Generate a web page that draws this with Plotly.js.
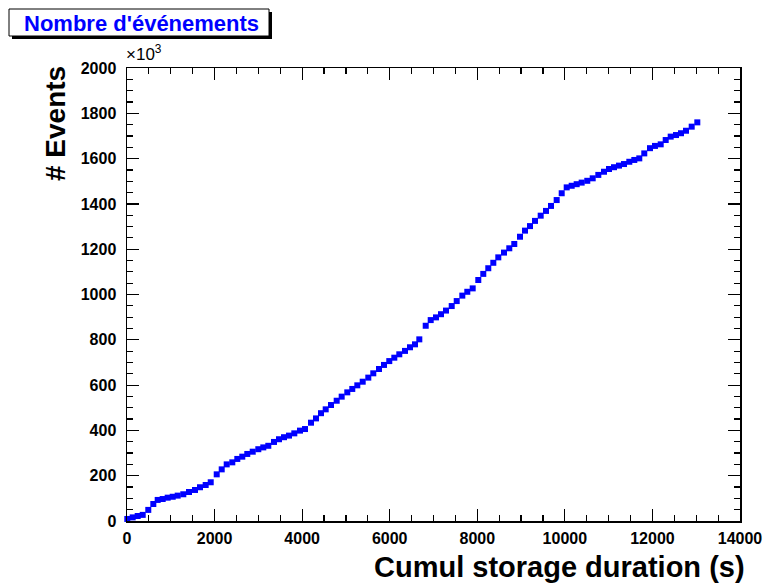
<!DOCTYPE html>
<html>
<head>
<meta charset="utf-8">
<script src="https://cdn.plot.ly/plotly-3.0.1.min.js"></script>
<style>
  html, body { margin: 0; padding: 0; background: #ffffff; }
  #chart { width: 764px; height: 584px; }
</style>
</head>
<body>
<div id="chart"></div>
<script>
// Cumulative storage duration (s)
const duration = [
  7, 130, 244, 359, 486, 601, 701, 815, 929, 1044,
  1158, 1286, 1416, 1553, 1667, 1797, 1912, 2049, 2163, 2277,
  2405, 2519, 2633, 2747, 2871, 2999, 3113, 3227, 3357, 3471,
  3586, 3700, 3821, 3951, 4066, 4202, 4316, 4431, 4538, 4659,
  4789, 4903, 5031, 5145, 5260, 5383, 5511, 5625, 5755, 5869,
  5990, 6105, 6219, 6349, 6463, 6577, 6676, 6822, 6936, 7057,
  7171, 7285, 7416, 7530, 7658, 7772, 7895, 8023, 8137, 8251,
  8366, 8480, 8610, 8731, 8845, 8975, 9090, 9204, 9318, 9448,
  9569, 9683, 9813, 9928, 10042, 10156, 10270, 10384, 10512, 10636,
  10764, 10894, 11008, 11122, 11236, 11351, 11472, 11586, 11700, 11814,
  11944, 12058, 12189, 12303, 12417, 12538, 12652, 12767, 12897, 13025
];

// Number of events, in thousands
const eventsK = [
  9, 16, 22, 27, 49, 75, 93, 97, 103, 107,
  112, 118, 128, 137, 149, 159, 171, 206, 228, 250,
  259, 274, 284, 296, 306, 317, 325, 332, 349, 361,
  370, 377, 387, 399, 406, 434, 453, 476, 493, 512,
  531, 549, 568, 583, 599, 615, 633, 652, 671, 689,
  706, 721, 736, 751, 767, 780, 802, 862, 887, 899,
  913, 929, 949, 971, 995, 1012, 1027, 1064, 1091, 1116,
  1140, 1164, 1185, 1204, 1223, 1255, 1282, 1302, 1325, 1348,
  1369, 1391, 1417, 1447, 1473, 1480, 1487, 1494, 1502, 1513,
  1528, 1542, 1554, 1562, 1569, 1576, 1586, 1594, 1601, 1623,
  1646, 1656, 1663, 1682, 1697, 1704, 1712, 1723, 1741, 1760
];

const titleText = "Nombre d'événements";
const xTitle = "Cumul storage duration (s)";
const yTitle = "# Events";
const yExponent = "×10<sup>3</sup>";

// Canvas geometry (pixels)
const W = 764, H = 584;
const M = { l: 127, r: 24, t: 68, b: 63 };
const plotW = W - M.l - M.r, plotH = H - M.t - M.b;
const px = x => (x - M.l) / plotW;          // pixel column -> paper x
const py = y => (H - M.b - y) / plotH;      // pixel row -> paper y

const FONT = '"Liberation Sans", Arial, Helvetica, sans-serif';

const trace = {
  x: duration,
  y: eventsK,
  type: 'scatter',
  mode: 'markers',
  marker: { symbol: 'square', size: 6, color: '#0000ff', line: { width: 0 } },
  cliponaxis: false,
  hoverinfo: 'x+y'
};

const axisCommon = {
  showgrid: false,
  zeroline: false,
  showline: true,
  linecolor: '#000000',
  linewidth: 1.5,
  mirror: 'allticks',
  ticks: 'inside',
  ticklen: 12,
  tickwidth: 1.2,
  tickcolor: '#000000',
  tickformat: 'd',
  exponentformat: 'none',
  separatethousands: false,
  tickfont: { family: FONT, size: 16, color: '#000000', weight: 'bold' },
  fixedrange: true
};

const layout = {
  width: W,
  height: H,
  margin: M,
  paper_bgcolor: '#ffffff',
  plot_bgcolor: '#ffffff',
  showlegend: false,
  xaxis: Object.assign({}, axisCommon, {
    range: [0, 14000],
    tickmode: 'linear', tick0: 0, dtick: 2000,
    ticklabelstandoff: 2,
    minor: { dtick: 500, ticks: 'inside', ticklen: 6, tickwidth: 1.2, tickcolor: '#000000' }
  }),
  yaxis: Object.assign({}, axisCommon, {
    range: [0, 2000],
    tickmode: 'linear', tick0: 0, dtick: 200,
    ticklabelstandoff: 6,
    minor: { dtick: 50, ticks: 'inside', ticklen: 6, tickwidth: 1.2, tickcolor: '#000000' }
  }),
  shapes: [
    // title box shadow
    { type: 'rect', xref: 'paper', yref: 'paper', layer: 'above',
      x0: px(12), x1: px(272), y0: py(39), y1: py(12),
      fillcolor: '#000000', line: { width: 0 } },
    // title box
    { type: 'rect', xref: 'paper', yref: 'paper', layer: 'above',
      x0: px(9), x1: px(269), y0: py(36), y1: py(9),
      fillcolor: '#ffffff', line: { color: '#000000', width: 1 } }
  ],
  annotations: [
    { text: titleText, xref: 'paper', yref: 'paper', x: px(141), y: py(24),
      xanchor: 'center', yanchor: 'middle', showarrow: false,
      font: { family: FONT, size: 22, color: '#0000ff', weight: 'bold' } },
    { text: yExponent, xref: 'paper', yref: 'paper', x: px(124), y: py(66),
      xanchor: 'left', yanchor: 'bottom', showarrow: false,
      font: { family: FONT, size: 17, color: '#000000' } },
    { text: yTitle, xref: 'paper', yref: 'paper', x: px(56), y: py(124),
      xanchor: 'center', yanchor: 'middle', textangle: -90, showarrow: false,
      font: { family: FONT, size: 28, color: '#000000', weight: 'bold' } },
    { text: xTitle, xref: 'paper', yref: 'paper', x: px(747), y: py(567),
      xanchor: 'right', yanchor: 'middle', showarrow: false,
      font: { family: FONT, size: 29, color: '#000000', weight: 'bold' } }
  ]
};

Plotly.newPlot('chart', [trace], layout, { staticPlot: true, displayModeBar: false });
</script>
</body>
</html>
